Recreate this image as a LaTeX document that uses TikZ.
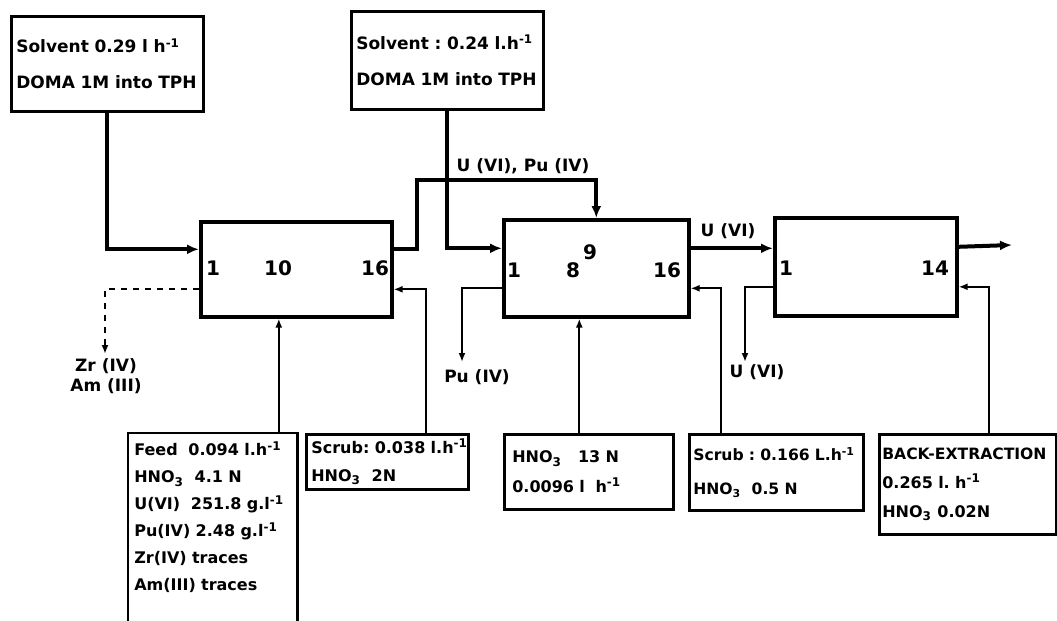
\documentclass[tikz,border=0pt]{standalone}
\usepackage{fontspec}
\setmainfont{DejaVu Sans}
\usetikzlibrary{arrows.meta, positioning, calc}

\begin{document}
\begin{tikzpicture}[
  x=0.5pt, y=-0.5pt,
  tbox/.style={draw, line width=1.3pt, anchor=north west, align=left, inner xsep=2.5pt, inner ysep=0pt, font=\bfseries\fontsize{8}{14}\selectfont},
  stagebox/.style={draw, line width=1.8pt, anchor=north west},
  num/.style={font=\bfseries\fontsize{10}{11}\selectfont, inner sep=0pt},
  lbl/.style={font=\bfseries\fontsize{8.5}{10}\selectfont, inner sep=0pt, align=center},
  org/.style={line width=2pt, -{Latex[length=6pt, width=5pt]}},
  aq/.style={line width=1pt, -{Latex[length=4.5pt, width=3.5pt]}}
]
  \useasboundingbox (0,0) rectangle (1057,621);
  \coordinate (edge) at (0,621);

  \node[tbox, minimum width=96pt, minimum height=47.5pt, text width=91pt, font=\bfseries\fontsize{8.5}{18}\selectfont] (solv1) at (10,15) {Solvent~0.29~l~h\textsuperscript{-1}\\DOMA~1M~into~TPH};
  \node[tbox, minimum width=96pt, minimum height=49pt, text width=91pt, font=\bfseries\fontsize{8.5}{18}\selectfont] (solv2) at (350,10) {Solvent~:~0.24~l.h\textsuperscript{-1}\\DOMA~1M~into~TPH};

  \node[stagebox, minimum width=95.5pt, minimum height=47.5pt] (stage1) at (199,220) {};
  \node[stagebox, minimum width=92.5pt, minimum height=48.5pt] (stage2) at (502,218) {};
  \node[stagebox, minimum width=91pt, minimum height=49pt] (stage3) at (773,216) {};
  \node[num] (s1a) at (213,268) {1};
  \node[num] (s1b) at (278,268) {10};
  \node[num] (s1c) at (375,268) {16};
  \node[num] (s2a) at (514,270) {1};
  \node[num] (s2b) at (573,270) {8};
  \node[num] (s2c) at (590,252) {9};
  \node[num] (s2d) at (667,270) {16};
  \node[num] (s3a) at (786,268) {1};
  \node[num] (s3b) at (935,268) {14};

  \node[tbox, draw=none, minimum width=83.5pt, minimum height=83pt, text width=78.5pt, font=\bfseries\fontsize{8}{13.5}\selectfont] (feed) at (128,433) {Feed~~0.094~l.h\textsuperscript{-1}\\HNO\textsubscript{3}~~4.1~N\\U(VI)~~251.8~g.l\textsuperscript{-1}\\Pu(IV)~2.48~g.l\textsuperscript{-1}\\Zr(IV)~traces\\Am(III)~traces};
  \draw[line width=1.3pt] (feed.north west |- edge) -- (feed.north west) -- (feed.north east) -- (feed.north east |- edge);
  \node[tbox, minimum width=81pt, minimum height=27.5pt, text width=76pt] (scrub1) at (305,433) {Scrub:~0.038~l.h\textsuperscript{-1}\\HNO\textsubscript{3}~~2N};
  \node[tbox, minimum width=84.5pt, minimum height=37.5pt, text width=76.5pt, inner xsep=4pt, font=\bfseries\fontsize{8}{15}\selectfont] (hno3) at (503,433) {HNO\textsubscript{3}~~~13~N\\0.0096~l~~h\textsuperscript{-1}};
  \node[tbox, minimum width=87pt, minimum height=38pt, text width=83pt, inner xsep=2pt, font=\bfseries\fontsize{7.8}{17}\selectfont] (scrub2) at (688,433) {Scrub~:~0.166~L.h\textsuperscript{-1}\\HNO\textsubscript{3}~~0.5~N};
  \node[tbox, minimum width=88.5pt, minimum height=50pt, text width=85.5pt, inner xsep=1.5pt, font=\bfseries\fontsize{8}{14.5}\selectfont] (back) at (878,433) {{\fontsize{7.8}{14.5}\selectfont BACK-EXTRACTION}\\0.265~l.~h\textsuperscript{-1}\\HNO\textsubscript{3}~0.02N};

  \coordinate (split) at (417,180);
  \coordinate (u2) at ([yshift=10pt]stage2.east);
  \coordinate (prod) at (1012,245);
  \draw[org] (solv1.south) |- ([yshift=10pt]stage1.west);
  \draw[org] ([yshift=10pt]stage1.east) -| (split) -| (stage2.north);
  \draw[org] (solv2.south) |- ([yshift=10pt]stage2.west);
  \draw[org] (u2) -- (u2 -| stage3.west);
  \draw[org] ([yshift=10pt]stage3.east) -- (prod);
  \node[lbl] (uputxt) at (523,166) {U (VI), Pu (IV)};
  \node[lbl] (u6txt) at (728,231) {U (VI)};

  \coordinate (feedin) at ([xshift=33pt]feed.north);
  \coordinate (sc1in) at ([xshift=19.5pt]scrub1.north);
  \coordinate (hin) at ([xshift=-4.75pt]hno3.north);
  \coordinate (sc2in) at ([xshift=-27.5pt]scrub2.north);
  \coordinate (bin) at ([xshift=10.75pt]back.north);
  \coordinate (raff) at (105,354);
  \coordinate (puout) at (462,362);
  \coordinate (uout) at (745,362);
  \draw[aq] (feedin) -- (feedin |- stage1.south);
  \draw[aq] (sc1in) |- ([yshift=-10pt]stage1.east);
  \draw[aq] (hin) -- (hin |- stage2.south);
  \draw[aq] (sc2in) |- ([yshift=-10pt]stage2.east);
  \draw[aq] (bin) |- ([yshift=-10pt]stage3.east);
  \draw[aq, dashed] ([yshift=-10pt]stage1.west) -| (raff);
  \draw[aq] ([yshift=-10pt]stage2.west) -| (puout);
  \draw[aq] ([yshift=-10pt]stage3.west) -| (uout);
  \node[lbl] (rafftxt) at (106,376) {Zr (IV)\\Am (III)};
  \node[lbl] (putxt) at (477,377) {Pu (IV)};
  \node[lbl] (uouttxt) at (757,372) {U (VI)};
\end{tikzpicture}
\end{document}
